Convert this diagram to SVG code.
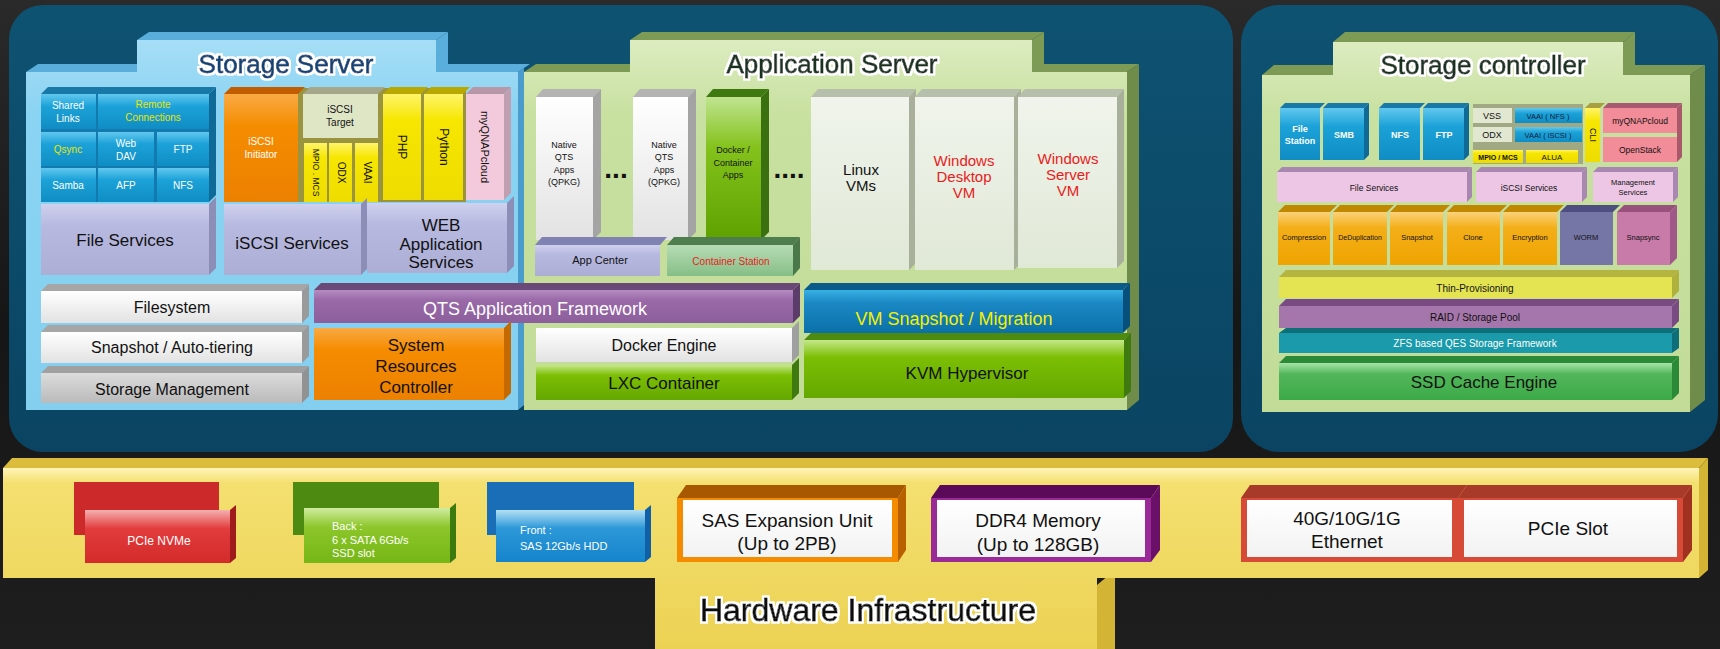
<svg xmlns="http://www.w3.org/2000/svg" width="1720" height="649" viewBox="0 0 1720 649">
<defs>
<linearGradient id="gBg" x1="0" y1="0" x2="0" y2="1"><stop offset="0" stop-color="#2a2a2a"/><stop offset="0.5" stop-color="#161616"/><stop offset="1" stop-color="#1e1e1e"/></linearGradient>
<linearGradient id="gPanel" x1="0" y1="0" x2="0" y2="1"><stop offset="0" stop-color="#0e5272"/><stop offset="1" stop-color="#0a4462"/></linearGradient>
<linearGradient id="gSS" x1="0" y1="0" x2="0" y2="1"><stop offset="0" stop-color="#a6def6"/><stop offset="0.2" stop-color="#8ad3f2"/><stop offset="1" stop-color="#84cff0"/></linearGradient>
<linearGradient id="gAS" x1="0" y1="0" x2="0" y2="1"><stop offset="0" stop-color="#dcecc0"/><stop offset="0.2" stop-color="#c8e0a0"/><stop offset="1" stop-color="#c2dc98"/></linearGradient>
<linearGradient id="gBlue" x1="0" y1="0" x2="0" y2="1"><stop offset="0" stop-color="#62c8ee"/><stop offset="0.35" stop-color="#1ca2d8"/><stop offset="1" stop-color="#0f8dc4"/></linearGradient>
<linearGradient id="gOrange" x1="0" y1="0" x2="0" y2="1"><stop offset="0" stop-color="#f9aa44"/><stop offset="0.3" stop-color="#f58c00"/><stop offset="1" stop-color="#ec8000"/></linearGradient>
<linearGradient id="gYellow" x1="0" y1="0" x2="0" y2="1"><stop offset="0" stop-color="#fff46a"/><stop offset="0.25" stop-color="#f6e600"/><stop offset="1" stop-color="#eedc00"/></linearGradient>
<linearGradient id="gWhite" x1="0" y1="0" x2="0" y2="1"><stop offset="0" stop-color="#ffffff"/><stop offset="1" stop-color="#e2e2e2"/></linearGradient>
<linearGradient id="gGray" x1="0" y1="0" x2="0" y2="1"><stop offset="0" stop-color="#dcdcdc"/><stop offset="1" stop-color="#bababa"/></linearGradient>
<linearGradient id="gLav" x1="0" y1="0" x2="0" y2="1"><stop offset="0" stop-color="#d0d1ee"/><stop offset="0.3" stop-color="#b7b9e0"/><stop offset="1" stop-color="#acaed6"/></linearGradient>
<linearGradient id="gPurple" x1="0" y1="0" x2="0" y2="1"><stop offset="0" stop-color="#b58cc2"/><stop offset="0.3" stop-color="#9a6aa8"/><stop offset="1" stop-color="#8d5e9c"/></linearGradient>
<linearGradient id="gGreen" x1="0" y1="0" x2="0" y2="1"><stop offset="0" stop-color="#c4e88a"/><stop offset="0.3" stop-color="#7cbe04"/><stop offset="1" stop-color="#64a800"/></linearGradient>
<linearGradient id="gGreenTall" x1="0" y1="0" x2="0" y2="1"><stop offset="0" stop-color="#c0e490"/><stop offset="0.35" stop-color="#84c21c"/><stop offset="1" stop-color="#5ea200"/></linearGradient>
<linearGradient id="gVM" x1="0" y1="0" x2="0" y2="1"><stop offset="0" stop-color="#f0f4ec"/><stop offset="1" stop-color="#e0e8d6"/></linearGradient>
<linearGradient id="gVMBlue" x1="0" y1="0" x2="0" y2="1"><stop offset="0" stop-color="#38b0e2"/><stop offset="0.3" stop-color="#1a88c4"/><stop offset="1" stop-color="#0b70a8"/></linearGradient>
<linearGradient id="gCS" x1="0" y1="0" x2="0" y2="1"><stop offset="0" stop-color="#b6dcb6"/><stop offset="1" stop-color="#86be86"/></linearGradient>
<linearGradient id="gComp" x1="0" y1="0" x2="0" y2="1"><stop offset="0" stop-color="#fad27a"/><stop offset="0.3" stop-color="#f4ae18"/><stop offset="1" stop-color="#eea400"/></linearGradient>
<linearGradient id="gSSD" x1="0" y1="0" x2="0" y2="1"><stop offset="0" stop-color="#a8e4a8"/><stop offset="0.3" stop-color="#52b65a"/><stop offset="1" stop-color="#3caa48"/></linearGradient>
<linearGradient id="gBand" x1="0" y1="0" x2="0" y2="1"><stop offset="0" stop-color="#fff4b8"/><stop offset="0.08" stop-color="#f4e070"/><stop offset="1" stop-color="#ecd254"/></linearGradient>
<linearGradient id="gRed" x1="0" y1="0" x2="0" y2="1"><stop offset="0" stop-color="#f6b0b0"/><stop offset="0.35" stop-color="#e23c3c"/><stop offset="1" stop-color="#d42a2a"/></linearGradient>
<linearGradient id="gSATA" x1="0" y1="0" x2="0" y2="1"><stop offset="0" stop-color="#d0eca0"/><stop offset="0.35" stop-color="#8cc62a"/><stop offset="1" stop-color="#76b616"/></linearGradient>
<linearGradient id="gFront" x1="0" y1="0" x2="0" y2="1"><stop offset="0" stop-color="#b4e0f6"/><stop offset="0.35" stop-color="#2c98d8"/><stop offset="1" stop-color="#1684cc"/></linearGradient>
<linearGradient id="gInner" x1="0" y1="0" x2="0" y2="1"><stop offset="0" stop-color="#ffffff"/><stop offset="1" stop-color="#f2f2f2"/></linearGradient>
<filter id="halo" x="-10%" y="-30%" width="120%" height="160%">
<feMorphology in="SourceAlpha" operator="dilate" radius="2.2" result="d"/>
<feFlood flood-color="#ffffff"/>
<feComposite in2="d" operator="in" result="w"/>
<feGaussianBlur in="w" stdDeviation="0.6" result="wb"/>
<feMerge><feMergeNode in="wb"/><feMergeNode in="wb"/><feMergeNode in="SourceGraphic"/></feMerge>
</filter>
</defs>
<style>
text{font-family:"Liberation Sans",Arial,sans-serif;text-anchor:middle;fill:#111;}
.ttl{font-size:26px;stroke-width:0.8px;filter:url(#halo);}
.w{fill:#ffffff;}
.y{fill:#e6e600;}
.r{fill:#e81c1c;}
.f7{font-size:7px;}
.f75{font-size:7.5px;}
.f8{font-size:8px;}
.f85{font-size:8.5px;}
.f9{font-size:9px;}
.f10{font-size:10px;}
.f11{font-size:11px;}
.f12{font-size:12px;}
.f15{font-size:15px;}
.f16{font-size:16px;}
.f17{font-size:17px;}
.f18{font-size:18px;}
.f19{font-size:19px;}
.b{font-weight:bold;}
.dots{font-size:28px;font-weight:bold;fill:#111;}
.st{text-anchor:start;}
</style>

<rect x="0" y="0" width="1720" height="649" fill="url(#gBg)"/>

<!-- dark panels -->
<g id="panel-left"><rect x="9" y="5" width="1224" height="447" rx="34" fill="url(#gPanel)"/></g>
<g id="panel-right"><rect x="1241" y="5" width="477" height="447" rx="38" fill="url(#gPanel)"/></g>

<!-- Application Server panel -->
<g id="application-server">
<polygon points="630,40 642,32 1044,32 1032,40" fill="#7d9b55"/>
<polygon points="1032,40 1044,32 1044,64 1139,64 1127,72 1032,72" fill="#7d9b55"/>
<polygon points="524,72 536,64 630,64 630,72" fill="#7d9b55"/>
<polygon points="1127,72 1139,64 1139,400 1127,410" fill="#6f8c4a"/>
<polygon points="524,72 630,72 630,40 1032,40 1032,72 1127,72 1127,410 524,410" fill="url(#gAS)"/>
<text x="832" y="73" class="ttl" style="fill:#1a3320;stroke:#1a3320">Application Server</text>
</g>

<!-- Storage Server panel -->
<g id="storage-server">
<polygon points="137,40 149,32 448,32 436,40" fill="#5aaedc"/>
<polygon points="436,40 448,32 448,64 530,64 518,72 436,72" fill="#5aaedc"/>
<polygon points="26,72 38,64 137,64 137,72" fill="#5aaedc"/>
<polygon points="518,72 524,67 524,405 518,410" fill="#4a9ccc"/>
<polygon points="26,72 137,72 137,40 436,40 436,72 518,72 518,410 26,410" fill="url(#gSS)"/>
<text x="286" y="73" class="ttl" style="fill:#0b4478;stroke:#0b4478">Storage Server</text>
</g>

<!-- Storage controller panel -->
<g id="storage-controller">
<polygon points="1333,42 1345,32 1635,32 1623,42" fill="#7d9b55"/>
<polygon points="1623,42 1635,32 1635,65 1705,65 1690,75 1623,75" fill="#7d9b55"/>
<polygon points="1262,75 1274,65 1333,65 1333,75" fill="#7d9b55"/>
<polygon points="1690,75 1705,65 1705,400 1690,412" fill="#6f8c4a"/>
<polygon points="1262,75 1333,75 1333,42 1623,42 1623,75 1690,75 1690,412 1262,412" fill="url(#gAS)"/>
<text x="1483" y="74" class="ttl" style="fill:#1a3320;stroke:#1a3320">Storage controller</text>
</g>

<!-- ===== Storage Server blocks ===== -->
<g id="ss-protocols">
<rect x="41" y="94" width="168" height="108" fill="#137ab0"/>
<polygon points="41,94 48,87 216,87 209,94" fill="#1878a8"/>
<polygon points="209,94 216,87 216,195 209,202" fill="#0f6a98"/>
</g>
<g id="ss-shared-links"><rect x="41" y="94" width="55" height="35" fill="url(#gBlue)"/><text x="68" y="109" class="f10 w">Shared</text><text x="68" y="122" class="f10 w">Links</text></g>
<g id="ss-remote"><rect x="98" y="94" width="111" height="35" fill="url(#gBlue)"/><text x="153" y="108" class="f10 y">Remote</text><text x="153" y="121" class="f10 y">Connections</text></g>
<g id="ss-qsync"><rect x="41" y="132" width="55" height="34" fill="url(#gBlue)"/><text x="68" y="153" class="f10 y">Qsync</text></g>
<g id="ss-webdav"><rect x="98" y="132" width="56" height="34" fill="url(#gBlue)"/><text x="126" y="147" class="f10 w">Web</text><text x="126" y="160" class="f10 w">DAV</text></g>
<g id="ss-ftp"><rect x="157" y="132" width="52" height="34" fill="url(#gBlue)"/><text x="183" y="153" class="f10 w">FTP</text></g>
<g id="ss-samba"><rect x="41" y="168" width="55" height="34" fill="url(#gBlue)"/><text x="68" y="189" class="f10 w">Samba</text></g>
<g id="ss-afp"><rect x="98" y="168" width="56" height="34" fill="url(#gBlue)"/><text x="126" y="189" class="f10 w">AFP</text></g>
<g id="ss-nfs"><rect x="157" y="168" width="52" height="34" fill="url(#gBlue)"/><text x="183" y="189" class="f10 w">NFS</text></g>
<g id="ss-file-services">
<polygon points="209,204 216,197 216,268 209,275" fill="#8c8eb8"/>
<rect x="41" y="204" width="168" height="71" fill="url(#gLav)"/>
<text x="125" y="246" class="f17">File Services</text>
</g>

<g id="ss-iscsi-backdrop"><rect x="298" y="88" width="168" height="114" fill="#9a9440"/></g>
<g id="ss-iscsi-initiator">
<polygon points="224,94 231,87 305,87 298,94" fill="#c25c00"/>
<rect x="224" y="94" width="74" height="108" fill="url(#gOrange)"/>
<text x="261" y="145" class="f10 w">iSCSI</text><text x="261" y="158" class="f10 w">Initiator</text>
</g>
<g id="ss-iscsi-target">
<polygon points="303,94 310,87 385,87 378,94" fill="#a6a68a"/>
<rect x="303" y="94" width="75" height="44" fill="#dfe6c6"/>
<text x="340" y="113" class="f10">iSCSI</text><text x="340" y="126" class="f10">Target</text>
</g>
<g id="ss-mpio"><rect x="304" y="143" width="23" height="59" fill="url(#gYellow)"/><text transform="translate(315.5,172.5) rotate(90)" y="3" class="f85">MPIO . MCS</text></g>
<g id="ss-odx"><rect x="329" y="143" width="23" height="59" fill="url(#gYellow)"/><text transform="translate(340.5,172.5) rotate(90)" y="3" class="f10">ODX</text></g>
<g id="ss-vaai"><rect x="355" y="143" width="23" height="59" fill="url(#gYellow)"/><text transform="translate(366.5,172.5) rotate(90)" y="3" class="f10">VAAI</text></g>
<g id="ss-php">
<polygon points="383,94 390,87 428,87 421,94" fill="#b8a800"/>
<rect x="383" y="94" width="38" height="106" fill="url(#gYellow)"/>
<text transform="translate(402,147) rotate(90)" y="4" class="f12">PHP</text>
</g>
<g id="ss-python">
<polygon points="424,94 431,87 470,87 463,94" fill="#b8a800"/>
<rect x="424" y="94" width="39" height="106" fill="url(#gYellow)"/>
<text transform="translate(443.5,147) rotate(90)" y="4" class="f12">Python</text>
</g>
<g id="ss-myqnapcloud">
<polygon points="466,94 473,87 511,87 504,94" fill="#b898a8"/>
<polygon points="504,94 511,87 511,193 504,200" fill="#c0a0b0"/>
<rect x="466" y="94" width="38" height="106" fill="#f2cadb"/>
<text transform="translate(485,147) rotate(90)" y="4" class="f11">myQNAPcloud</text>
</g>
<g id="ss-iscsi-services">
<polygon points="361,204 367,198 367,269 361,275" fill="#8c8eb8"/>
<rect x="224" y="204" width="137" height="71" fill="url(#gLav)"/>
<text x="292" y="249" class="f17">iSCSI Services</text>
</g>
<g id="ss-web-app">
<polygon points="507,203 514,196 514,266 507,273" fill="#8c8eb8"/>
<rect x="367" y="203" width="140" height="70" fill="url(#gLav)"/>
<text x="441" y="231" class="f17">WEB</text><text x="441" y="250" class="f17">Application</text><text x="441" y="268" class="f17">Services</text>
</g>
<g id="ss-filesystem">
<polygon points="41,291 48,284 309,284 302,291" fill="#a6a6a6"/>
<polygon points="302,291 309,284 309,316 302,323" fill="#9a9a9a"/>
<rect x="41" y="291" width="261" height="32" fill="url(#gWhite)"/>
<text x="172" y="313" class="f16">Filesystem</text>
</g>
<g id="ss-snapshot">
<polygon points="41,332 48,325 309,325 302,332" fill="#a6a6a6"/>
<polygon points="302,332 309,325 309,356 302,363" fill="#9a9a9a"/>
<rect x="41" y="332" width="261" height="31" fill="url(#gWhite)"/>
<text x="172" y="353" class="f16">Snapshot / Auto-tiering</text>
</g>
<g id="ss-storage-mgmt">
<polygon points="41,373 48,366 309,366 302,373" fill="#a0a0a0"/>
<polygon points="302,373 309,366 309,396 302,403" fill="#929292"/>
<rect x="41" y="373" width="261" height="30" fill="url(#gGray)"/>
<text x="172" y="395" class="f16">Storage Management</text>
</g>
<g id="qts-framework">
<polygon points="314,290 321,283 800,283 793,290" fill="#6a4878"/>
<polygon points="793,290 800,283 800,316 793,323" fill="#5c3c6a"/>
<rect x="314" y="290" width="479" height="33" fill="url(#gPurple)"/>
<text x="535" y="315" class="f18 w">QTS Application Framework</text>
</g>
<g id="ss-sys-res">
<polygon points="504,328 511,321 511,393 504,400" fill="#c46a00"/>
<rect x="314" y="328" width="190" height="72" fill="url(#gOrange)"/>
<text x="416" y="351" class="f17">System</text><text x="416" y="372" class="f17">Resources</text><text x="416" y="393" class="f17">Controller</text>
</g>

<!-- ===== Application Server blocks ===== -->
<g id="as-native1">
<polygon points="536,97 543,89 601,89 593,97" fill="#b4b4b4"/>
<polygon points="593,97 601,89 601,232 593,240" fill="#a4a4a4"/>
<rect x="536" y="97" width="57" height="143" fill="url(#gWhite)"/>
<text x="564" y="148" class="f9">Native</text><text x="564" y="160" class="f9">QTS</text><text x="564" y="173" class="f9">Apps</text><text x="564" y="185" class="f9">(QPKG)</text>
</g>
<g id="as-dots1"><text x="616" y="178" class="dots">...</text></g>
<g id="as-native2">
<polygon points="633,97 640,89 696,89 688,97" fill="#b4b4b4"/>
<polygon points="688,97 696,89 696,232 688,240" fill="#a4a4a4"/>
<rect x="633" y="97" width="55" height="143" fill="url(#gWhite)"/>
<text x="664" y="148" class="f9">Native</text><text x="664" y="160" class="f9">QTS</text><text x="664" y="173" class="f9">Apps</text><text x="664" y="185" class="f9">(QPKG)</text>
</g>
<g id="as-docker-apps">
<polygon points="706,97 713,89 769,89 761,97" fill="#3e7a10"/>
<polygon points="761,97 769,89 769,232 761,240" fill="#3a7010"/>
<rect x="706" y="97" width="55" height="143" fill="url(#gGreenTall)"/>
<text x="733" y="153" class="f9">Docker /</text><text x="733" y="166" class="f9">Container</text><text x="733" y="178" class="f9">Apps</text>
</g>
<g id="as-dots2"><text x="789" y="178" class="dots">....</text></g>
<g id="as-linux">
<polygon points="811,97 818,89 916,89 909,97" fill="#b6beac"/>
<polygon points="909,97 916,89 916,263 909,270" fill="#a8b09c"/>
<rect x="811" y="97" width="98" height="173" fill="url(#gVM)"/>
<text x="861" y="175" class="f15">Linux</text><text x="861" y="191" class="f15">VMs</text>
</g>
<g id="as-windesk">
<polygon points="915,97 922,89 1021,89 1014,97" fill="#b6beac"/>
<polygon points="1014,97 1021,89 1021,263 1014,270" fill="#a8b09c"/>
<rect x="915" y="97" width="99" height="173" fill="url(#gVM)"/>
<text x="964" y="166" class="f15 r">Windows</text><text x="964" y="182" class="f15 r">Desktop</text><text x="964" y="198" class="f15 r">VM</text>
</g>
<g id="as-winserver">
<polygon points="1018,97 1025,89 1124,89 1117,97" fill="#b6beac"/>
<polygon points="1117,97 1124,89 1124,261 1117,268" fill="#a8b09c"/>
<rect x="1018" y="97" width="99" height="171" fill="url(#gVM)"/>
<text x="1068" y="164" class="f15 r">Windows</text><text x="1068" y="180" class="f15 r">Server</text><text x="1068" y="196" class="f15 r">VM</text>
</g>
<g id="as-appcenter">
<polygon points="535,245 542,237 667,237 660,245" fill="#8082b2"/>
<rect x="535" y="245" width="125" height="31" fill="url(#gLav)"/>
<text x="600" y="264" class="f11">App Center</text>
</g>
<g id="as-container-station">
<polygon points="667,245 674,237 800,237 793,245" fill="#4e7e4e"/>
<polygon points="793,245 800,237 800,268 793,276" fill="#4a784a"/>
<rect x="667" y="245" width="126" height="31" fill="url(#gCS)"/>
<text x="731" y="265" class="f10 r">Container Station</text>
</g>
<g id="as-docker-engine">
<polygon points="792,328 799,321 799,355 792,362" fill="#a0a0a0"/>
<rect x="536" y="328" width="256" height="34" fill="url(#gWhite)"/>
<text x="664" y="351" class="f16">Docker Engine</text>
</g>
<g id="as-lxc">
<polygon points="792,365 799,358 799,393 792,400" fill="#3e7a10"/>
<rect x="536" y="365" width="256" height="35" fill="url(#gGreen)"/>
<text x="664" y="389" class="f17">LXC Container</text>
</g>
<g id="as-vm-snapshot">
<polygon points="804,290 811,283 1130,283 1123,290" fill="#0a5a8a"/>
<polygon points="1123,290 1130,283 1130,326 1123,333" fill="#08507c"/>
<rect x="804" y="290" width="319" height="43" fill="url(#gVMBlue)"/>
<text x="954" y="325" class="f18" style="fill:#f4f000">VM Snapshot / Migration</text>
</g>
<g id="as-kvm">
<polygon points="804,340 811,333 1131,333 1124,340" fill="#4c8a10"/>
<polygon points="1124,340 1131,333 1131,391 1124,398" fill="#3e7a10"/>
<rect x="804" y="340" width="320" height="58" fill="url(#gGreen)"/>
<text x="967" y="379" class="f17">KVM Hypervisor</text>
</g>

<!-- ===== Storage controller blocks ===== -->
<g id="sc-file-station">
<polygon points="1280,108 1285,103 1325,103 1320,108" fill="#1878a8"/>
<rect x="1280" y="108" width="40" height="52" fill="url(#gBlue)"/>
<text x="1300" y="132" class="f9 w b">File</text><text x="1300" y="144" class="f9 w b">Station</text>
</g>
<g id="sc-smb">
<polygon points="1323,108 1328,103 1369,103 1364,108" fill="#1878a8"/>
<polygon points="1364,108 1369,103 1369,155 1364,160" fill="#0f6a98"/>
<rect x="1323" y="108" width="41" height="52" fill="url(#gBlue)"/>
<text x="1344" y="138" class="f9 w b">SMB</text>
</g>
<g id="sc-nfs">
<polygon points="1379,108 1384,103 1425,103 1420,108" fill="#1878a8"/>
<rect x="1379" y="108" width="41" height="52" fill="url(#gBlue)"/>
<text x="1400" y="138" class="f9 w b">NFS</text>
</g>
<g id="sc-ftp">
<polygon points="1423,108 1428,103 1469,103 1464,108" fill="#1878a8"/>
<polygon points="1464,108 1469,103 1469,155 1464,160" fill="#0f6a98"/>
<rect x="1423" y="108" width="41" height="52" fill="url(#gBlue)"/>
<text x="1444" y="138" class="f9 w b">FTP</text>
</g>
<g id="sc-proto-backdrop"><rect x="1473" y="104" width="110" height="60" fill="#a0a884"/></g>
<g id="sc-vss"><rect x="1473" y="108" width="39" height="15" fill="#e2e7d2"/><text x="1492" y="119" class="f9">VSS</text></g>
<g id="sc-vaai-nfs"><rect x="1515" y="108" width="67" height="15" fill="url(#gBlue)"/><text x="1548" y="119" class="f75" style="fill:#102040">VAAI ( NFS )</text></g>
<g id="sc-odx"><rect x="1473" y="127" width="39" height="15" fill="#e2e7d2"/><text x="1492" y="138" class="f9">ODX</text></g>
<g id="sc-vaai-iscsi"><rect x="1515" y="127" width="67" height="15" fill="url(#gBlue)"/><text x="1548" y="138" class="f75" style="fill:#102040">VAAI ( iSCSI )</text></g>
<g id="sc-mpio"><rect x="1473" y="150" width="50" height="13" fill="url(#gYellow)"/><text x="1498" y="160" class="f7 b">MPIO / MCS</text></g>
<g id="sc-alua"><rect x="1526" y="150" width="52" height="13" fill="url(#gYellow)"/><text x="1552" y="160" class="f8">ALUA</text></g>
<g id="sc-cli">
<polygon points="1585,108 1590,103 1605,103 1600,108" fill="#a8a040"/>
<rect x="1585" y="108" width="15" height="54" fill="url(#gYellow)"/>
<text transform="translate(1592.5,135) rotate(90)" y="3" class="f9">CLI</text>
</g>
<g id="sc-myqnapcloud">
<polygon points="1603,108 1608,103 1682,103 1677,108" fill="#a85a70"/>
<polygon points="1677,108 1682,103 1682,157 1677,162" fill="#a85a6a"/>
<rect x="1603" y="108" width="74" height="25" fill="#f28c98"/>
<text x="1640" y="124" class="f85">myQNAPcloud</text>
</g>
<g id="sc-openstack"><rect x="1603" y="137" width="74" height="25" fill="#f28c98"/><text x="1640" y="153" class="f85">OpenStack</text></g>
<g id="sc-file-services">
<polygon points="1277,172 1282,167 1472,167 1467,172" fill="#a888b0"/>
<polygon points="1467,172 1472,167 1472,197 1467,202" fill="#a888b0"/>
<rect x="1277" y="172" width="190" height="30" fill="#ecc6e4"/>
<text x="1374" y="191" class="f85">File Services</text>
</g>
<g id="sc-iscsi-services">
<polygon points="1476,172 1481,167 1587,167 1582,172" fill="#a888b0"/>
<polygon points="1582,172 1587,167 1587,197 1582,202" fill="#a888b0"/>
<rect x="1476" y="172" width="106" height="30" fill="#ecc6e4"/>
<text x="1529" y="191" class="f85">iSCSI Services</text>
</g>
<g id="sc-mgmt-services">
<polygon points="1593,172 1598,167 1678,167 1673,172" fill="#a888b0"/>
<polygon points="1673,172 1678,167 1678,197 1673,202" fill="#a888b0"/>
<rect x="1593" y="172" width="80" height="30" fill="#ecc6e4"/>
<text x="1633" y="185" class="f75">Management</text><text x="1633" y="195" class="f75">Services</text>
</g>
<g id="sc-compression"><polygon points="1278,212 1285,205 1337,205 1330,212" fill="#c08800"/><rect x="1278" y="212" width="52" height="53" fill="url(#gComp)"/><text x="1304" y="240" class="f75">Compression</text></g>
<g id="sc-dedup"><polygon points="1333,212 1340,205 1394,205 1387,212" fill="#c08800"/><rect x="1333" y="212" width="54" height="53" fill="url(#gComp)"/><text x="1360" y="240" class="f7">DeDuplication</text></g>
<g id="sc-snapshot"><polygon points="1390,212 1397,205 1450,205 1443,212" fill="#c08800"/><rect x="1390" y="212" width="53" height="53" fill="url(#gComp)"/><text x="1417" y="240" class="f75">Snapshot</text></g>
<g id="sc-clone"><polygon points="1447,212 1454,205 1507,205 1500,212" fill="#c08800"/><rect x="1447" y="212" width="53" height="53" fill="url(#gComp)"/><text x="1473" y="240" class="f75">Clone</text></g>
<g id="sc-encryption"><polygon points="1503,212 1510,205 1564,205 1557,212" fill="#c08800"/><rect x="1503" y="212" width="54" height="53" fill="url(#gComp)"/><text x="1530" y="240" class="f75">Encryption</text></g>
<g id="sc-worm"><polygon points="1560,212 1567,205 1620,205 1613,212" fill="#4e4e80"/><rect x="1560" y="212" width="53" height="53" fill="#7676a6"/><text x="1586" y="240" class="f75">WORM</text></g>
<g id="sc-snapsync"><polygon points="1617,212 1624,205 1677,205 1670,212" fill="#98507c"/><polygon points="1670,212 1677,205 1677,258 1670,265" fill="#a05888"/><rect x="1617" y="212" width="53" height="53" fill="#c87aa8"/><text x="1643" y="240" class="f75">Snapsync</text></g>
<g id="sc-thin">
<polygon points="1279,277 1286,270 1679,270 1672,277" fill="#b4b440"/>
<polygon points="1672,277 1679,270 1679,291 1672,298" fill="#b0b03c"/>
<rect x="1279" y="277" width="393" height="21" fill="#e4e452"/>
<text x="1475" y="292" class="f10">Thin-Provisioning</text>
</g>
<g id="sc-raid">
<polygon points="1279,306 1286,299 1679,299 1672,306" fill="#7a4a82"/>
<polygon points="1672,306 1679,299 1679,321 1672,328" fill="#7a4a82"/>
<rect x="1279" y="306" width="393" height="22" fill="#a576ab"/>
<text x="1475" y="321" class="f10">RAID / Storage Pool</text>
</g>
<g id="sc-zfs">
<polygon points="1279,333 1286,328 1679,328 1672,333" fill="#0e6e7a"/>
<polygon points="1672,333 1679,328 1679,348 1672,353" fill="#0e6e7a"/>
<rect x="1279" y="333" width="393" height="20" fill="#1a9aaa"/>
<text x="1475" y="347" class="f10 w">ZFS based QES Storage Framework</text>
</g>
<g id="sc-ssd">
<polygon points="1279,363 1286,356 1679,356 1672,363" fill="#2a8a38"/>
<polygon points="1672,363 1679,356 1679,393 1672,400" fill="#2a8a38"/>
<rect x="1279" y="363" width="393" height="37" fill="url(#gSSD)"/>
<text x="1484" y="388" class="f17">SSD Cache Engine</text>
</g>

<!-- ===== Hardware ===== -->
<g id="hardware">
<polygon points="3,468 12,458 1708,458 1699,468" fill="#dcbc3c"/>
<polygon points="1699,468 1708,458 1708,570 1699,578" fill="#d4b434"/>
<polygon points="1097,585 1115,570 1115,649 1097,649" fill="#d4b434"/>
<polygon points="3,468 1699,468 1699,578 1097,578 1097,649 655,649 655,578 3,578" fill="url(#gBand)"/>
<text x="868" y="621" style="font-size:32px;stroke:#111;stroke-width:0.8px;fill:#111;filter:url(#halo)">Hardware Infrastructure</text>
</g>
<g id="hw-nvme">
<rect x="74" y="482" width="145" height="53" fill="#cc2a2a"/>
<polygon points="230,510 236,505 236,558 230,563" fill="#a01c1c"/>
<rect x="85" y="510" width="145" height="53" fill="url(#gRed)"/>
<text x="159" y="545" class="f12 w">PCIe NVMe</text>
</g>
<g id="hw-sata">
<rect x="293" y="482" width="146" height="53" fill="#4c8a12"/>
<polygon points="450,508 456,503 456,558 450,563" fill="#3c7a10"/>
<rect x="304" y="508" width="146" height="55" fill="url(#gSATA)"/>
<text x="332" y="530" class="f11 w st">Back :</text><text x="332" y="544" class="f11 w st">6 x SATA 6Gb/s</text><text x="332" y="557" class="f11 w st">SSD slot</text>
</g>
<g id="hw-front">
<rect x="487" y="482" width="147" height="53" fill="#1a6eb8"/>
<polygon points="645,510 651,505 651,557 645,562" fill="#1060a8"/>
<rect x="496" y="510" width="149" height="52" fill="url(#gFront)"/>
<text x="520" y="534" class="f11 w st">Front :</text><text x="520" y="550" class="f11 w st">SAS 12Gb/s HDD</text>
</g>
<g id="hw-sas">
<polygon points="677,498 686,485 906,485 898,498" fill="#a85800"/>
<polygon points="898,498 906,485 906,550 898,562" fill="#b86000"/>
<rect x="677" y="498" width="221" height="64" fill="#f58c00"/>
<rect x="683" y="500" width="209" height="57" fill="url(#gInner)"/>
<text x="787" y="527" class="f19">SAS Expansion Unit</text><text x="787" y="550" class="f19">(Up to 2PB)</text>
</g>
<g id="hw-ddr4">
<polygon points="931,498 940,485 1160,485 1151,498" fill="#5a0a58"/>
<polygon points="1151,498 1160,485 1160,550 1151,562" fill="#6a1068"/>
<rect x="931" y="498" width="220" height="64" fill="#9a2a98"/>
<rect x="937" y="500" width="208" height="57" fill="url(#gInner)"/>
<text x="1038" y="527" class="f19">DDR4 Memory</text><text x="1038" y="551" class="f19">(Up to 128GB)</text>
</g>
<g id="hw-ethernet">
<polygon points="1241,498 1250,485 1467,485 1458,498" fill="#a83a2a"/>
<rect x="1241" y="498" width="217" height="64" fill="#d84a38"/>
<rect x="1247" y="500" width="205" height="57" fill="url(#gInner)"/>
<text x="1347" y="525" class="f19">40G/10G/1G</text><text x="1347" y="548" class="f19">Ethernet</text>
</g>
<g id="hw-pcie-slot">
<polygon points="1458,498 1467,485 1692,485 1683,498" fill="#a83a2a"/>
<polygon points="1683,498 1692,485 1692,550 1683,562" fill="#a03020"/>
<rect x="1458" y="498" width="225" height="64" fill="#d84a38"/>
<rect x="1464" y="500" width="213" height="57" fill="url(#gInner)"/>
<text x="1568" y="535" class="f19">PCIe Slot</text>
</g>
<g id="connectors"></g>
</svg>
